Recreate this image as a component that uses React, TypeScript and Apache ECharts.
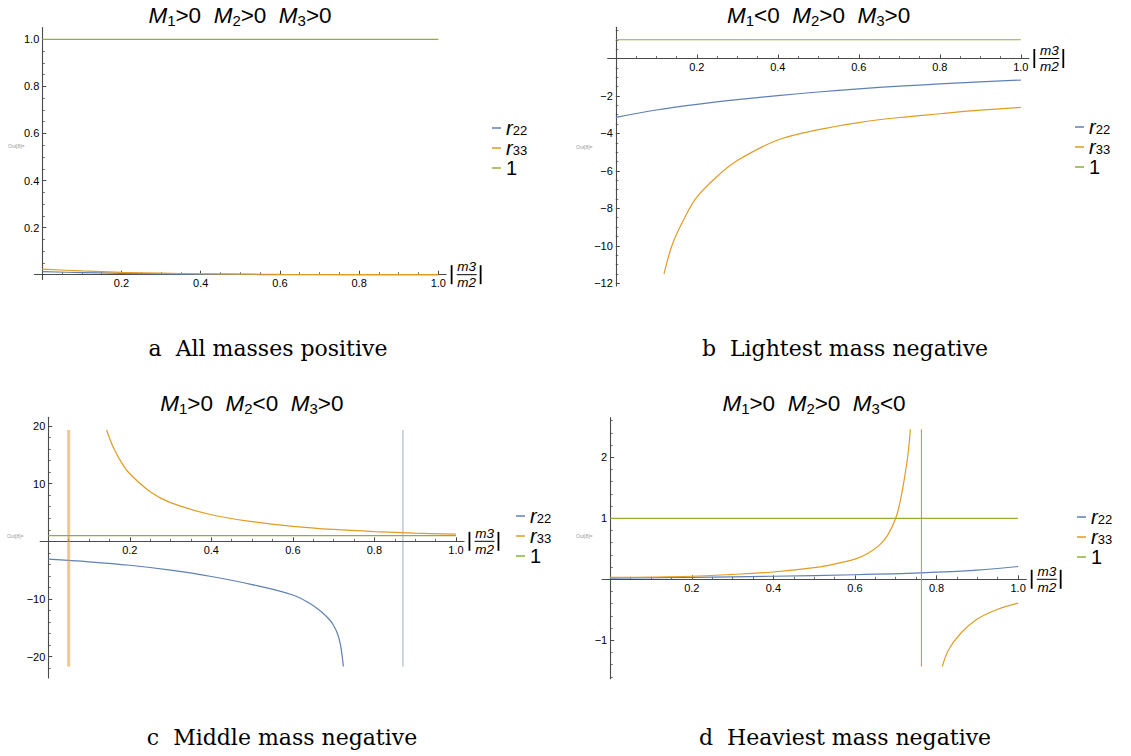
import React, { useEffect, useRef } from "react";
import * as echarts from "echarts";

// ---------- tick values ----------
const X_MAJOR = [0.2, 0.4, 0.6, 0.8, 1.0];
const X_MINOR = [0.05, 0.1, 0.15, 0.25, 0.3, 0.35, 0.45, 0.5, 0.55, 0.65, 0.7, 0.75, 0.85, 0.9, 0.95];

// ---------- panel a : all masses positive ----------
const A_Y_MAJOR = [0.2, 0.4, 0.6, 0.8, 1.0];
const A_Y_MINOR = [0.05, 0.1, 0.15, 0.25, 0.3, 0.35, 0.45, 0.5, 0.55, 0.65, 0.7, 0.75, 0.85, 0.9, 0.95];
const A_R22 = [[0, 0.013], [0.1, 0.009], [0.2, 0.006], [0.3, 0.0035], [0.4, 0.002], [0.5, 0.001], [0.6, 0.0005], [0.8, 0.0002], [1.0, 0.0001]];
const A_R33 = [[0, 0.024], [0.1, 0.016], [0.2, 0.010], [0.3, 0.0065], [0.4, 0.004], [0.5, 0.0025], [0.6, 0.0015], [0.8, 0.0005], [1.0, 0.0002]];
const A_ONE = [[0, 1], [1, 1]];

// ---------- panel b : lightest mass negative ----------
const B_Y_MAJOR = [-12, -10, -8, -6, -4, -2];
const B_Y_MINOR = [-11.5, -11, -10.5, -9.5, -9, -8.5, -7.5, -7, -6.5, -5.5, -5, -4.5, -3.5, -3, -2.5, -1.5, -1, -0.5, 0.5, 1, 1.5];
const B_R22 = [[0, -3.14], [0.1, -2.75], [0.2, -2.45], [0.3, -2.2], [0.4, -1.98], [0.5, -1.79], [0.6, -1.62], [0.7, -1.48], [0.8, -1.36], [0.9, -1.25], [1.0, -1.15]];
const B_R33 = [[0.119, -11.5], [0.14, -9.9], [0.17, -8.5], [0.2, -7.4], [0.25, -6.3], [0.3, -5.45], [0.4, -4.35], [0.5, -3.8], [0.6, -3.42], [0.7, -3.15], [0.8, -2.95], [0.9, -2.76], [1.0, -2.61]];
const B_ONE = [[0, 1], [1, 1]];

// ---------- panel c : middle mass negative ----------
const C_Y_MAJOR = [-20, -10, 10, 20];
const C_Y_MINOR = [-22, -18, -16, -14, -12, -8, -6, -4, -2, 2, 4, 6, 8, 12, 14, 16, 18];
const C_R22 = [[0, -3.1], [0.1, -3.55], [0.2, -4.15], [0.3, -5.0], [0.4, -6.1], [0.5, -7.5], [0.6, -9.3], [0.64, -10.7], [0.67, -12.2], [0.69, -13.6], [0.7, -14.6], [0.71, -16.1], [0.717, -18.0], [0.724, -21.7]];
const C_R22_JUMP = [[0.87, 19.3], [0.87, -21.7]];
const C_R33 = [[0.143, 19.3], [0.16, 16.2], [0.18, 13.6], [0.2, 11.7], [0.25, 8.6], [0.3, 6.7], [0.4, 4.6], [0.5, 3.4], [0.6, 2.6], [0.7, 2.05], [0.8, 1.68], [0.9, 1.42], [1.0, 1.25]];
const C_R33_JUMP = [[0.05, 19.3], [0.05, -21.7]];
const C_ONE = [[0, 1], [1, 1]];

// ---------- panel d : heaviest mass negative ----------
const D_Y_MAJOR = [-1, 1, 2];
const D_Y_MINOR = [-1.6, -1.4, -1.2, -0.8, -0.6, -0.4, -0.2, 0.2, 0.4, 0.6, 0.8, 1.2, 1.4, 1.6, 1.8, 2.2, 2.4, 2.6];
const D_R22 = [[0, 0.02], [0.2, 0.033], [0.4, 0.05], [0.6, 0.075], [0.76, 0.105], [0.9, 0.15], [1.0, 0.21]];
const D_R33 = [[0, 0.03], [0.2, 0.05], [0.3, 0.08], [0.4, 0.12], [0.5, 0.19], [0.55, 0.25], [0.6, 0.33], [0.63, 0.42], [0.66, 0.56], [0.68, 0.72], [0.7, 1.0], [0.71, 1.25], [0.72, 1.6], [0.73, 2.05], [0.736, 2.46]];
const D_R33_JUMP = [[0.763, 2.46], [0.763, -1.43]];
const D_R33_RIGHT = [[0.814, -1.43], [0.83, -1.15], [0.86, -0.88], [0.9, -0.65], [0.95, -0.49], [1.0, -0.39]];
const D_ONE = [[0, 1], [1, 1]];

const LEGEND_NAMES = ["r22", "r33", "1"];

// ---------- styling ----------
const FONT = "Liberation Sans";
const SERIF = "DejaVu Serif";
const BLUE = "#5E81B5";
const ORANGE = "#E19C24";
const GREEN = "#8FB032";
const AXIS = "#4a4a4a";
const X_MIN = -0.02;
const X_MAX = 1.02;

type Seg = { name: string; data: number[][]; color: string; width?: number; opacity?: number; smooth?: boolean };

const PANELS = [
  {
    x0: 42.3, xs: 396, y0: 274.7, ys: 235.4, yMin: -0.02, yMax: 1.05, yMajor: A_Y_MAJOR, yMinor: A_Y_MINOR, dec: 1,
    signs: [">", ">", ">"], tx: 240, ty: 15, lx: 492, ly: 118, ox: 8, oy: 146,
    caption: "a\u00a0\u00a0All masses positive", cx: 268, cy: 348,
    segs: [
      { name: "r22", data: A_R22, color: BLUE, smooth: true },
      { name: "r33", data: A_R33, color: ORANGE, smooth: true },
      { name: "1", data: A_ONE, color: GREEN },
    ] as Seg[],
  },
  {
    x0: 615.8, xs: 405, y0: 58.5, ys: 18.73, yMin: -12.15, yMax: 1.67, yMajor: B_Y_MAJOR, yMinor: B_Y_MINOR, dec: 0,
    signs: ["<", ">", ">"], tx: 818.6, ty: 15, lx: 1075, ly: 117, ox: 576, oy: 147,
    caption: "b\u00a0\u00a0Lightest mass negative", cx: 845, cy: 348,
    segs: [
      { name: "r22", data: B_R22, color: BLUE, smooth: true },
      { name: "r33", data: B_R33, color: ORANGE, smooth: true },
      { name: "1", data: B_ONE, color: GREEN },
    ] as Seg[],
  },
  {
    x0: 48.3, xs: 407.6, y0: 541.3, ys: 5.77, yMin: -23.7, yMax: 21.5, yMajor: C_Y_MAJOR, yMinor: C_Y_MINOR, dec: 0,
    signs: [">", "<", ">"], tx: 251.8, ty: 403, lx: 516, ly: 506, ox: 7, oy: 536,
    caption: "c\u00a0\u00a0Middle mass negative", cx: 282, cy: 737,
    segs: [
      { name: "r22", data: C_R22, color: BLUE, smooth: true },
      { name: "r22", data: C_R22_JUMP, color: BLUE, opacity: 0.55 },
      { name: "r33", data: C_R33, color: ORANGE, smooth: true },
      { name: "r33", data: C_R33_JUMP, color: ORANGE, width: 3, opacity: 0.55 },
      { name: "1", data: C_ONE, color: GREEN },
    ] as Seg[],
  },
  {
    x0: 610.2, xs: 407.9, y0: 579.3, ys: 61, yMin: -1.63, yMax: 2.65, yMajor: D_Y_MAJOR, yMinor: D_Y_MINOR, dec: 0,
    signs: [">", ">", "<"], tx: 814, ty: 403, lx: 1077, ly: 507, ox: 576, oy: 536,
    caption: "d\u00a0\u00a0Heaviest mass negative", cx: 845, cy: 737,
    segs: [
      { name: "r22", data: D_R22, color: BLUE, smooth: true },
      { name: "r33", data: D_R33, color: ORANGE, smooth: true },
      { name: "r33", data: D_R33_JUMP, color: "#C8923F", width: 1 },
      { name: "r33", data: D_R33_RIGHT, color: ORANGE, smooth: true },
      { name: "1", data: D_ONE, color: GREEN },
    ] as Seg[],
  },
];

function fmtY(v: number, dec: number) {
  const s = Math.abs(v).toFixed(dec);
  return v < 0 ? "\u2212" + s : s;
}

function buildOption() {
  const grid: any[] = [];
  const xAxis: any[] = [];
  const yAxis: any[] = [];
  const series: any[] = [];
  const legend: any[] = [];
  const graphic: any[] = [];

  PANELS.forEach((p, i) => {
    grid.push({
      left: p.x0 + X_MIN * p.xs,
      top: p.y0 - p.yMax * p.ys,
      width: (X_MAX - X_MIN) * p.xs,
      height: (p.yMax - p.yMin) * p.ys,
      containLabel: false,
      outerBoundsMode: "none",
    });
    const xi = 2 * i;
    const yi = 2 * i;
    // x axis sits at y = 0: shift it up from the grid bottom
    const xOff = p.yMin * p.ys;
    // y axis sits at x = 0: shift it right from the grid left
    const yOff = X_MIN * p.xs;
    xAxis.push(
      {
        gridIndex: i, type: "value", min: X_MIN, max: X_MAX, position: "bottom", offset: xOff,
        axisLine: { show: true, onZero: false, lineStyle: { color: AXIS, width: 1.1 } },
        axisTick: { show: true, inside: true, length: 4, customValues: X_MAJOR, lineStyle: { color: AXIS, width: 1 } },
        axisLabel: { show: true, customValues: X_MAJOR, formatter: (v: number) => v.toFixed(1), fontSize: 11, color: "#000", margin: 3, fontFamily: FONT },
        splitLine: { show: false },
      },
      {
        gridIndex: i, type: "value", min: X_MIN, max: X_MAX, position: "bottom", offset: xOff,
        axisLine: { show: false, onZero: false },
        axisTick: { show: true, inside: true, length: 2.5, customValues: X_MINOR, lineStyle: { color: AXIS, width: 0.8 } },
        axisLabel: { show: false },
        splitLine: { show: false },
      }
    );
    yAxis.push(
      {
        gridIndex: i, type: "value", min: p.yMin, max: p.yMax, position: "left", offset: yOff,
        axisLine: { show: true, onZero: false, lineStyle: { color: AXIS, width: 1.1 } },
        axisTick: { show: true, inside: true, length: 4, customValues: p.yMajor, lineStyle: { color: AXIS, width: 1 } },
        axisLabel: { show: true, customValues: p.yMajor, formatter: (v: number) => fmtY(v, p.dec), fontSize: 11, color: "#000", margin: 3, fontFamily: FONT },
        splitLine: { show: false },
      },
      {
        gridIndex: i, type: "value", min: p.yMin, max: p.yMax, position: "left", offset: yOff,
        axisLine: { show: false, onZero: false },
        axisTick: { show: true, inside: true, length: 2.5, customValues: p.yMinor, lineStyle: { color: AXIS, width: 0.8 } },
        axisLabel: { show: false },
        splitLine: { show: false },
      }
    );

    p.segs.forEach((s, k) => {
      series.push({
        type: "line", name: s.name, xAxisIndex: xi, yAxisIndex: yi, data: s.data,
        showSymbol: false, symbol: "none", smooth: s.smooth ? 0.35 : false,
        lineStyle: { color: s.color, width: s.width ?? 1.2, opacity: s.opacity ?? 1 },
        itemStyle: { color: s.color },
        clip: true, silent: true, z: 2 + k,
      });
    });

    legend.push({
      data: LEGEND_NAMES, orient: "vertical", left: p.lx, top: p.ly, padding: 0,
      icon: "rect", itemWidth: 9, itemHeight: 1.5, itemGap: 0, selectedMode: false,
      formatter: (name: string) => (name === "1" ? "{n|1}" : "{i|r}{s|" + name.slice(1) + "}"),
      textStyle: {
        color: "#000",
        rich: {
          i: { fontSize: 20, fontStyle: "italic", fontFamily: FONT, lineHeight: 18.5, color: "#000" },
          s: { fontSize: 13, fontFamily: FONT, lineHeight: 10, verticalAlign: "bottom", color: "#000" },
          n: { fontSize: 20, fontFamily: FONT, lineHeight: 18.5, color: "#000" },
        },
      },
    });

    const [s1, s2, s3] = p.signs;
    graphic.push({
      type: "text", x: p.tx, y: p.ty, silent: true,
      style: {
        text: `{i|M}{s|1}{n|${s1}0\u00a0\u00a0}{i|M}{s|2}{n|${s2}0\u00a0\u00a0}{i|M}{s|3}{n|${s3}0}`,
        align: "center", verticalAlign: "middle",
        rich: {
          i: { fontSize: 22.5, fontStyle: "italic", fontFamily: FONT, lineHeight: 26, fill: "#000" },
          s: { fontSize: 15, fontFamily: FONT, lineHeight: 14, verticalAlign: "bottom", fill: "#000" },
          n: { fontSize: 22.5, fontFamily: FONT, lineHeight: 26, fill: "#000" },
        },
      },
    });
    graphic.push({
      type: "text", x: p.cx, y: p.cy, silent: true,
      style: { text: p.caption, align: "center", verticalAlign: "middle", fontFamily: SERIF, fontSize: 22, fill: "#000" },
    });
    graphic.push({
      type: "text", x: p.ox, y: p.oy, silent: true,
      style: { text: "Out[8]=", align: "left", verticalAlign: "middle", fontFamily: FONT, fontSize: 5, fill: "#999" },
    });
    // |m3/m2| axis name
    const ex = p.x0 + X_MAX * p.xs;
    const ey = p.y0;
    graphic.push({
      type: "group", silent: true,
      children: [
        { type: "rect", shape: { x: ex + 4.5, y: ey - 9.5, width: 1.8, height: 19 }, style: { fill: "#000" } },
        { type: "rect", shape: { x: ex + 33.5, y: ey - 9.5, width: 1.8, height: 19 }, style: { fill: "#000" } },
        { type: "line", shape: { x1: ex + 10.5, y1: ey, x2: ex + 30.5, y2: ey }, style: { stroke: "#000", lineWidth: 1 } },
        { type: "text", x: ex + 20.5, y: ey - 1, style: { text: "m3", align: "center", verticalAlign: "bottom", fontFamily: FONT, fontStyle: "italic", fontSize: 13.5, fill: "#000" } },
        { type: "text", x: ex + 20.5, y: ey + 1, style: { text: "m2", align: "center", verticalAlign: "top", fontFamily: FONT, fontStyle: "italic", fontSize: 13.5, fill: "#000" } },
      ],
    });
  });

  return {
    animation: false,
    backgroundColor: "#fff",
    textStyle: { fontFamily: FONT },
    grid, xAxis, yAxis, series, legend, graphic,
  };
}

export default function App() {
  const ref = useRef<HTMLDivElement>(null);
  useEffect(() => {
    if (!ref.current) return;
    const chart = echarts.init(ref.current, undefined, { renderer: "svg" });
    chart.setOption(buildOption() as any);
    return () => chart.dispose();
  }, []);
  return <div ref={ref} style={{ position: "absolute", left: 0, top: 0, width: 1131, height: 756, background: "#fff" }} />;
}
